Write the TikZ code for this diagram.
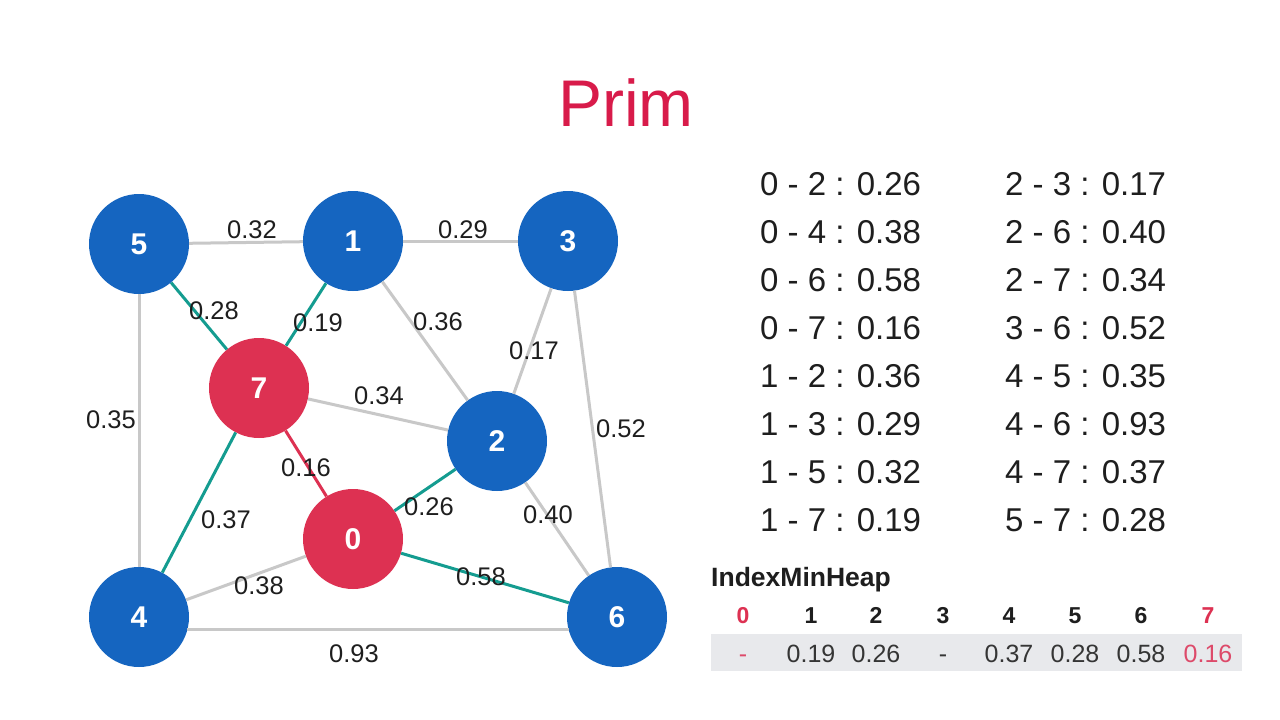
\documentclass[tikz,border=0pt]{standalone}
\usepackage{fontspec}
\setmainfont{Liberation Sans}
\definecolor{nblue}{HTML}{1565C0}
\definecolor{nred}{HTML}{DD3152}
\definecolor{tred}{HTML}{D81B4A}
\definecolor{teal2}{HTML}{149C90}
\definecolor{egray}{HTML}{C8C8C8}
\definecolor{heapbg}{HTML}{E8E9EC}
\definecolor{txt}{HTML}{1E1E1E}
\definecolor{pinkval}{HTML}{DD4A6A}
\begin{document}
\begin{tikzpicture}[x=1pt,y=-1pt,
  vtx/.style={circle,minimum size=100pt,inner sep=0pt,text=white,font=\fontsize{30}{32}\selectfont\bfseries},
  bluev/.style={vtx,fill=nblue},
  redv/.style={vtx,fill=nred},
  gedge/.style={egray,line width=3pt},
  tedge/.style={teal2,line width=3pt},
  redge/.style={nred,line width=3pt},
  wlab/.style={text=txt,font=\fontsize{25.5}{27}\selectfont,inner sep=0pt},
  listtxt/.style={text=txt,font=\fontsize{33}{36}\selectfont,inner sep=0pt,anchor=west},
  idx/.style={font=\fontsize{23}{25}\selectfont\bfseries,inner sep=0pt,text=txt,anchor=base},
  val/.style={font=\fontsize{25}{27}\selectfont,inner sep=0pt,text=txt!90!white,anchor=base}
]
\useasboundingbox (0,0) rectangle (1280,720);
\fill[white] (0,0) rectangle (1280,720);

% title
\node[text=tred,font=\fontsize{66}{70}\selectfont] (title) at (626,103) {Prim};

% vertices
\node[bluev] (n5) at (139,244) {5};
\node[bluev] (n1) at (353,241) {1};
\node[bluev] (n3) at (568,241) {3};
\node[redv]  (n7) at (259,388) {7};
\node[bluev] (n2) at (497,441) {2};
\node[redv]  (n0) at (353,539) {0};
\node[bluev] (n4) at (139,617) {4};
\node[bluev] (n6) at (617,617) {6};

% edges
\draw[gedge] (n5) -- (n1);
\draw[gedge] (n1) -- (n3);
\draw[gedge] (n1) -- (n2);
\draw[gedge] (n3) -- (n2);
\draw[gedge] (n3) -- (n6);
\draw[gedge] (n7) -- (n2);
\draw[gedge] (n0) -- (n4);
\draw[gedge] (n2) -- (n6);
\draw[gedge] (n5) -- (n4);
\draw[gedge] (n4.-15) -- (n6.-165);
\draw[tedge] (n5) -- (n7);
\draw[tedge] (n1) -- (n7);
\draw[tedge] (n7) -- (n4);
\draw[tedge] (n0) -- (n2);
\draw[tedge] (n0) -- (n6);
\draw[redge] (n7) -- (n0);

% edge labels
\node[wlab] (l51) at (252,230) {0.32};
\node[wlab] (l13) at (463,230) {0.29};
\node[wlab] (l57) at (214,311) {0.28};
\node[wlab] (l17) at (318,323) {0.19};
\node[wlab] (l12) at (438,322) {0.36};
\node[wlab] (l32) at (534,351) {0.17};
\node[wlab] (l72) at (379,396) {0.34};
\node[wlab] (l54) at (111,420) {0.35};
\node[wlab] (l36) at (621,429) {0.52};
\node[wlab] (l70) at (306,468) {0.16};
\node[wlab] (l02) at (429,507) {0.26};
\node[wlab] (l26) at (548,515) {0.40};
\node[wlab] (l74) at (226,520) {0.37};
\node[wlab] (l04) at (259,586) {0.38};
\node[wlab] (l06) at (481,577) {0.58};
\node[wlab] (l46) at (354,654) {0.93};

% edge list
\node[listtxt] (a1) at (760,184) {0 - 2 : 0.26};
\node[listtxt] (a2) at (760,232) {0 - 4 : 0.38};
\node[listtxt] (a3) at (760,280) {0 - 6 : 0.58};
\node[listtxt] (a4) at (760,328) {0 - 7 : 0.16};
\node[listtxt] (a5) at (760,376) {1 - 2 : 0.36};
\node[listtxt] (a6) at (760,424) {1 - 3 : 0.29};
\node[listtxt] (a7) at (760,472) {1 - 5 : 0.32};
\node[listtxt] (a8) at (760,520) {1 - 7 : 0.19};
\node[listtxt] (b1) at (1005,184) {2 - 3 : 0.17};
\node[listtxt] (b2) at (1005,232) {2 - 6 : 0.40};
\node[listtxt] (b3) at (1005,280) {2 - 7 : 0.34};
\node[listtxt] (b4) at (1005,328) {3 - 6 : 0.52};
\node[listtxt] (b5) at (1005,376) {4 - 5 : 0.35};
\node[listtxt] (b6) at (1005,424) {4 - 6 : 0.93};
\node[listtxt] (b7) at (1005,472) {4 - 7 : 0.37};
\node[listtxt] (b8) at (1005,520) {5 - 7 : 0.28};

% IndexMinHeap
\node[font=\fontsize{26.5}{28}\selectfont\bfseries,anchor=base west,inner sep=0pt,text=txt] (heap) at (711,586) {IndexMinHeap};
\fill[heapbg] (711,634) rectangle (1242,671);
\node[idx,text=nred] (i0) at (743,623) {0};
\node[idx] (i1) at (811,623) {1};
\node[idx] (i2) at (876,623) {2};
\node[idx] (i3) at (943,623) {3};
\node[idx] (i4) at (1009,623) {4};
\node[idx] (i5) at (1075,623) {5};
\node[idx] (i6) at (1141,623) {6};
\node[idx,text=nred] (i7) at (1208,623) {7};
\node[val,text=pinkval] (v0) at (743,662) {-};
\node[val] (v1) at (811,662) {0.19};
\node[val] (v2) at (876,662) {0.26};
\node[val] (v3) at (943,662) {-};
\node[val] (v4) at (1009,662) {0.37};
\node[val] (v5) at (1075,662) {0.28};
\node[val] (v6) at (1141,662) {0.58};
\node[val,text=pinkval] (v7) at (1208,662) {0.16};
\end{tikzpicture}
\end{document}
